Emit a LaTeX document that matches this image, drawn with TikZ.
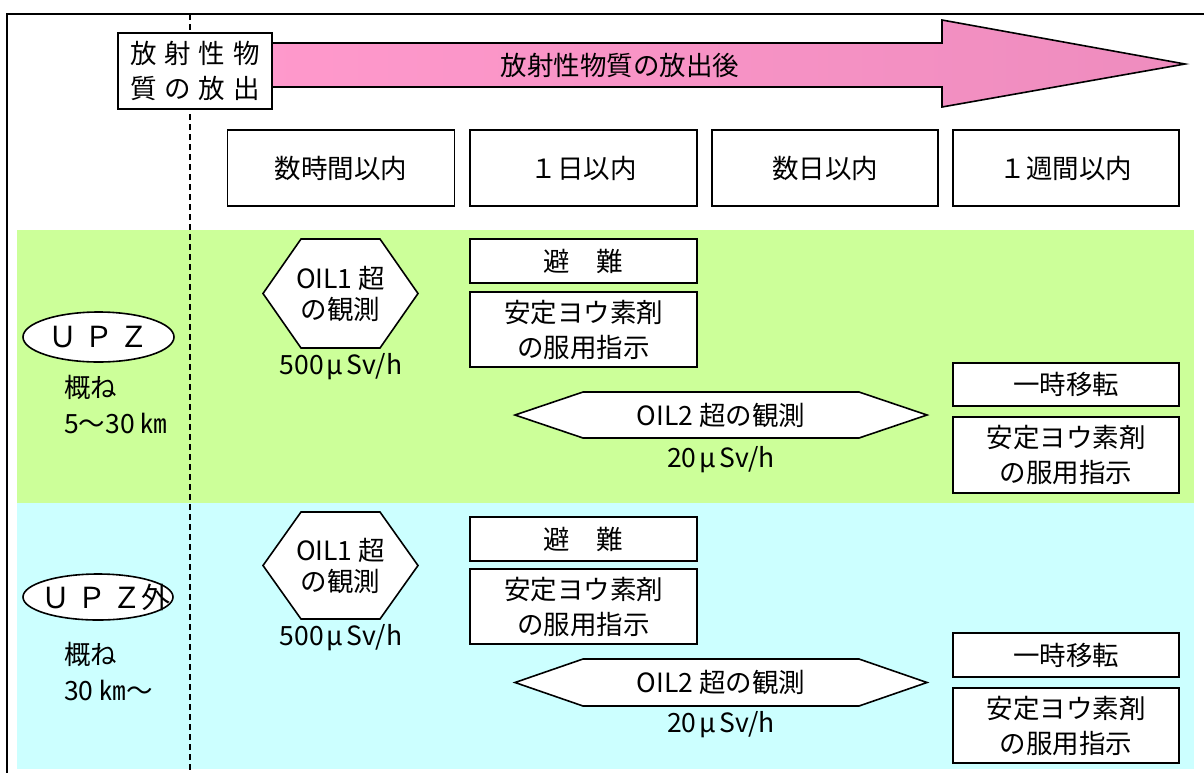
\documentclass[tikz,border=0pt]{standalone}
\usepackage{fontspec}
\setmainfont{Noto Sans CJK JP}
\usepackage{tikz}
\usetikzlibrary{calc,shapes.geometric}
\definecolor{bandgreen}{RGB}{204,255,153}
\definecolor{bandcyan}{RGB}{204,255,255}
\definecolor{pinkL}{RGB}{255,153,204}
\definecolor{pinkR}{RGB}{238,140,190}
\newcommand\jpfont{\fontsize{26.5}{35}\selectfont}
\newcommand\gap{\hspace{8pt}}
\newcommand\usv{\hspace{3pt}μ\hspace{3pt}Sv/h}
% hexagon outline round a coordinate: name, half width, half height, slant
\newcommand\hexframe[4]{%
\draw[hexline] ($(#1)+(-#2,0)$) -- ($(#1)+(-#2+#4,-#3)$) -- ($(#1)+(#2-#4,-#3)$)
  -- ($(#1)+(#2,0)$) -- ($(#1)+(#2-#4,#3)$) -- ($(#1)+(-#2+#4,#3)$) -- cycle;}
\tikzset{
every node/.style={font=\jpfont, inner sep=0pt},
frame/.style={line width=1.4pt},
tbox/.style={draw, fill=white, line width=1.6pt, minimum width=227pt, minimum height=76pt, align=center},
abox/.style={draw, fill=white, line width=1.6pt, minimum width=227pt, align=center},
hexline/.style={fill=white, line width=1.6pt},
hextext/.style={align=center, font=\fontsize{26.5}{31}\selectfont},
zone/.style={ellipse, draw, fill=white, line width=1.6pt, minimum width=151pt, minimum height=50pt},
zonetext/.style={font=\fontsize{29}{31}\selectfont},
}
\begin{document}
\begin{tikzpicture}[x=1pt,y=-1pt]
\useasboundingbox (0,0) rectangle (1204,772);
\clip (0,0) rectangle (1204,772);
% bands
\fill[bandgreen] (17,230) rectangle (1194,503);
\fill[bandcyan] (17,503) rectangle (1194,769);
\draw[frame] (1230,14) -- (7,14) -- (7,790);
\coordinate (dtop) at (190,14);
\coordinate (dbot) at (190,780);
\draw[line width=1.2pt, dash pattern=on 6pt off 4pt] (dtop) -- (dbot);
% time axis
\draw[line width=1.6pt, left color=pinkL, right color=pinkR]
  (250,43) -- (942,43) -- (942,20) -- (1185,64) -- (942,107) -- (942,87) -- (250,87) -- cycle;
\node (after) at (620,65) {放射性物質の放出後};
\node[tbox, minimum width=154pt] (release) at (195,71) {放\gap 射\gap 性\gap 物\\質\gap の\gap 放\gap 出};
\node[tbox] (hours) at (341,168) {数時間以内};
\node[tbox] (day) at (583.5,168) {１日以内};
\node[tbox, minimum width=226pt] (days) at (825,168) {数日以内};
\node[tbox, minimum width=226pt] (week) at (1066,168) {１週間以内};
% UPZ
\node[zone] (upz) at (98.5,337) {};
\node[zonetext] (upzt) at (upz) {Ｕ Ｐ Ｚ};
\node[anchor=west] (approxg) at (64,387) {概ね};
\node[anchor=west] (rangeg) at (64,423) {5～30 ㎞};
\coordinate (oil1g) at (340.5,293.5);
\hexframe{oil1g}{77.5}{54.5}{38}
\node[hextext] (oil1gt) at (oil1g) {OIL1 超\\の観測};
\node (dose1g) at (341,367) {500\usv};
\node[abox, minimum height=44pt] (evacg) at (583.5,261) {避　難};
\node[abox, minimum height=75pt] (iodg) at (583.5,329.5) {安定ヨウ素剤\\の服用指示};
\coordinate (oil2g) at (721,415);
\hexframe{oil2g}{206}{23}{68}
\node (oil2gt) at (oil2g) {OIL2 超の観測};
\node (dose2g) at (721,460) {20\usv};
\node[abox, minimum width=226pt, minimum height=43pt] (relocg) at (1066,384.5) {一時移転};
\node[abox, minimum width=226pt, minimum height=76pt] (iod2g) at (1066,455) {安定ヨウ素剤\\の服用指示};
% outside UPZ
\node[zone, minimum width=150pt, minimum height=46pt] (outer) at (98,597) {};
\node[zonetext] (outert) at (106,597) {Ｕ Ｐ Ｚ外};
\node[anchor=west] (approxc) at (64,654) {概ね};
\node[anchor=west] (rangec) at (64,690) {30 ㎞～};
\coordinate (oil1c) at (340.5,565.5);
\hexframe{oil1c}{77.5}{53.5}{38}
\node[hextext] (oil1ct) at (oil1c) {OIL1 超\\の観測};
\node (dose1c) at (341,638) {500\usv};
\node[abox, minimum height=44pt] (evacc) at (583.5,539) {避　難};
\node[abox, minimum height=75pt] (iodc) at (583.5,606.5) {安定ヨウ素剤\\の服用指示};
\coordinate (oil2c) at (721,682.5);
\hexframe{oil2c}{206}{23.5}{68}
\node (oil2ct) at (oil2c) {OIL2 超の観測};
\node (dose2c) at (721,725) {20\usv};
\node[abox, minimum width=226pt, minimum height=44pt] (relocc) at (1066,655) {一時移転};
\node[abox, minimum width=226pt, minimum height=75pt] (iod2c) at (1066,725.5) {安定ヨウ素剤\\の服用指示};
\end{tikzpicture}
\end{document}
